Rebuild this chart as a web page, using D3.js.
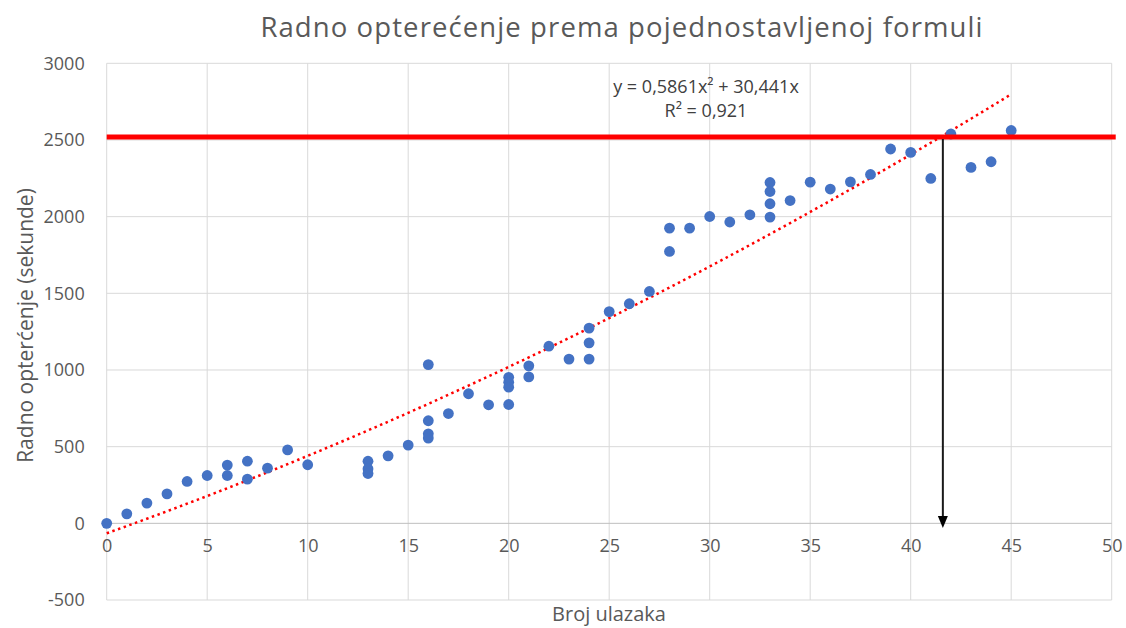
<!DOCTYPE html>
<html>
<head>
<meta charset="utf-8">
<script src="https://cdn.jsdelivr.net/npm/d3@7/dist/d3.min.js"></script>
<style>
html,body{margin:0;padding:0;background:#fff;}
svg{display:block;}
</style>
</head>
<body>
<svg id="chart" width="1126" height="628"></svg>
<script>
// ---- data ----
const entries = [0,1,2,3,4,5,6,6,7,7,8,9,10,13,13,13,14,15,16,16,16,16,17,18,19,20,20,20,20,21,21,22,23,24,24,24,25,26,27,28,28,29,30,31,32,33,33,33,33,34,35,36,37,38,39,40,41,42,43,44,45];
const seconds = [0,62,132,192,273,312,380,312,405,288,360,479,382,405,355,325,440,510,1035,669,584,556,716,845,773,775,952,920,888,1027,955,1155,1071,1071,1177,1273,1381,1432,1512,1925,1773,1925,2001,1965,2012,2223,2164,2084,1997,2105,2225,2180,2227,2275,2441,2419,2249,2539,2321,2358,2562];
const trendCoef = [-65, 46.75, 0.375]; // c, b, a  (trendline as drawn)
const trendRange = [0, 45];
const limitValue = 2520;
const arrowX = 41.6;
const arrowEnd = -30;
const xTicks = [0,5,10,15,20,25,30,35,40,45,50];
const yTicks = [-500,0,500,1000,1500,2000,2500,3000];
const title = "Radno opterećenje prema pojednostavljenoj formuli";
const xLabel = "Broj ulazaka";
const yLabel = "Radno opterćenje (sekunde)";
const eqLines = ["y = 0,5861x² + 30,441x", "R² = 0,921"];

// ---- layout ----
const svg = d3.select("#chart");
const L = 106.7, R = 1111.7, T = 63.3, B = 600;
const x = d3.scaleLinear().domain([0,50]).range([L,R]);
const y = d3.scaleLinear().domain([-500,3000]).range([B,T]);
const font = "'Open Sans', 'Liberation Sans', sans-serif";
const txt = "#595959";
const fmt = d => String(d);

// gridlines
svg.append("g").selectAll("line").data(xTicks).join("line")
  .attr("x1", d=>x(d)).attr("x2", d=>x(d)).attr("y1", T).attr("y2", B)
  .attr("stroke", "#d9d9d9").attr("stroke-width", 1);
svg.append("g").selectAll("line").data(yTicks).join("line")
  .attr("x1", L).attr("x2", R).attr("y1", d=>y(d)).attr("y2", d=>y(d))
  .attr("stroke", d=> d===0 ? "#bfbfbf" : "#d9d9d9").attr("stroke-width", 1);

// axes (labels only)
const xAxis = d3.axisBottom(x).tickValues(xTicks).tickFormat(fmt).tickSize(0).tickPadding(16);
const gx = svg.append("g").attr("transform", `translate(0,${y(0)})`).call(xAxis);
gx.select(".domain").remove();
gx.selectAll("text").attr("font-family", font).attr("font-size", 18).attr("fill", txt);

const yAxis = d3.axisLeft(y).tickValues(yTicks).tickFormat(fmt).tickSize(0).tickPadding(22);
const gy = svg.append("g").attr("transform", `translate(${L},0)`).call(yAxis);
gy.select(".domain").remove();
gy.selectAll("text").attr("font-family", font).attr("font-size", 18).attr("fill", txt);

// title & axis labels
svg.append("text").attr("x", 622).attr("y", 37).attr("text-anchor","middle")
  .attr("font-family", font).attr("font-size", 27.5).attr("letter-spacing", 1.1).attr("fill", txt).text(title);
svg.append("text").attr("x", 609).attr("y", 621).attr("text-anchor","middle")
  .attr("font-family", font).attr("font-size", 20).attr("fill", txt).text(xLabel);
svg.append("text").attr("transform", `translate(33,325.5) rotate(-90)`).attr("text-anchor","middle")
  .attr("font-family", font).attr("font-size", 21).attr("fill", txt).text(yLabel);

// trendline
const trendX = d3.range(trendRange[0], trendRange[1] + 0.001, 0.5);
const trend = d => trendCoef[0] + trendCoef[1]*d + trendCoef[2]*d*d;
svg.append("path").datum(trendX)
  .attr("d", d3.line().x(d=>x(d)).y(d=>y(trend(d))))
  .attr("fill","none").attr("stroke","#ff0000").attr("stroke-width",2.5)
  .attr("stroke-dasharray","2.5,3.5");

// points
const pts = entries.map((e,i)=>({x:e, y:seconds[i]}));
svg.append("g").selectAll("circle").data(pts).join("circle")
  .attr("cx", d=>x(d.x)).attr("cy", d=>y(d.y)).attr("r", 5.4)
  .attr("fill", "#4472c4");

// limit line
svg.append("line").attr("x1", x(0)).attr("x2", x(50.2))
  .attr("y1", y(limitValue)).attr("y2", y(limitValue))
  .attr("stroke", "#ff0000").attr("stroke-width", 5);

// arrow
const ax = x(arrowX);
svg.append("line").attr("x1", ax).attr("x2", ax)
  .attr("y1", y(limitValue)+2).attr("y2", y(arrowEnd)-10)
  .attr("stroke", "#1a1a1a").attr("stroke-width", 2);
const tip = y(arrowEnd);
svg.append("path").attr("d", `M${ax-5},${tip-12} L${ax+5},${tip-12} L${ax},${tip} Z`).attr("fill","#000");

// equation
eqLines.forEach((t,i)=>{
  svg.append("text").attr("x", 706).attr("y", 93 + i*24).attr("text-anchor","middle")
    .attr("font-family", font).attr("font-size", 18).attr("fill", "#404040").text(t);
});
</script>
</body>
</html>
